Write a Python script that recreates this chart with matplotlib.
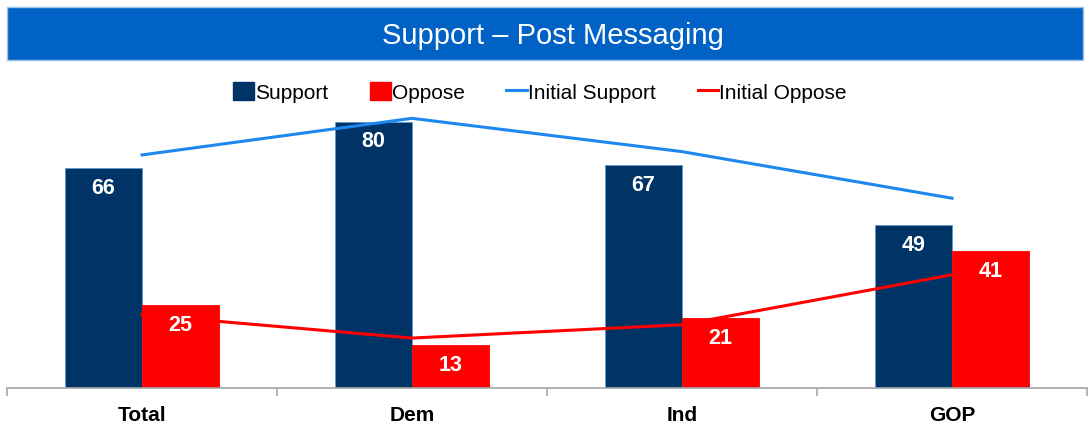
import matplotlib.pyplot as plt
from matplotlib.patches import Rectangle, Patch
from matplotlib.lines import Line2D
import numpy as np

plt.rcParams['font.family'] = ['Liberation Sans', 'DejaVu Sans']

groups = ["Total", "Dem", "Ind", "GOP"]
support = [66, 80, 67, 49]
oppose = [25, 13, 21, 41]
initial_support = [70, 81, 71, 57]
initial_oppose = [22, 15, 19, 34]

navy = "#003366"
red = "#FF0000"
light_blue = "#1E88F0"

fig = plt.figure(figsize=(10.91, 4.27), dpi=100)

# title band
fig.patches.append(Rectangle((7/1091, 1 - 61/427), 1076/1091, 53/427,
                             transform=fig.transFigure, facecolor="#0062C4",
                             edgecolor="#9DC3E6", linewidth=1))
fig.text(553/1091, 1 - 36/427, "Support \u2013 Post Messaging", color="white",
         fontsize=21, ha="center", va="center")

ax = fig.add_axes([7/1091, 38/427, 1080/1091, 283/427])
x = np.arange(len(groups))
w = 0.285
b1 = ax.bar(x - w/2, support, w, color=navy, edgecolor="#5B9BD5", linewidth=0.6, zorder=2)
b2 = ax.bar(x + w/2, oppose, w, color=red, edgecolor=red, linewidth=0.6, zorder=2)
ax.plot(x, initial_support, color=light_blue, linewidth=2.2, zorder=3)
ax.plot(x, initial_oppose, color=red, linewidth=2.2, zorder=3)

for bars in (b1, b2):
    for bar in bars:
        h = bar.get_height()
        ax.text(bar.get_x() + bar.get_width()/2, h - 5.8, str(int(h)), color="white",
                fontsize=15.5, fontweight="bold", ha="center", va="center", zorder=4)

ax.set_xlim(-0.5, 3.5)
ax.set_ylim(0, 85)
ax.set_yticks([])
for s in ("top", "right", "left"):
    ax.spines[s].set_visible(False)
ax.spines["bottom"].set_color("#A6A6A6")
ax.spines["bottom"].set_linewidth(1.2)
ax.set_xticks(x)
ax.set_xticklabels(groups, fontsize=15, fontweight="bold")
ax.tick_params(axis="x", which="major", length=0, pad=12)
ax.set_xticks(np.arange(-0.5, 4, 1), minor=True)
ax.tick_params(axis="x", which="minor", length=6, color="#A6A6A6", width=1.2)

handles = [Patch(facecolor=navy, edgecolor=navy), Patch(facecolor=red, edgecolor=red),
           Line2D([], [], color=light_blue, linewidth=2.2), Line2D([], [], color=red, linewidth=2.2)]
fig.legend(handles, ["Support", "Oppose", "Initial Support", "Initial Oppose"],
           loc="center", bbox_to_anchor=(540/1091, 1 - 93/427), ncol=4, frameon=False,
           fontsize=15, handlelength=1.0, handleheight=1.0, handletextpad=0.05,
           columnspacing=2.0)

fig.savefig("out.png", dpi=100)
